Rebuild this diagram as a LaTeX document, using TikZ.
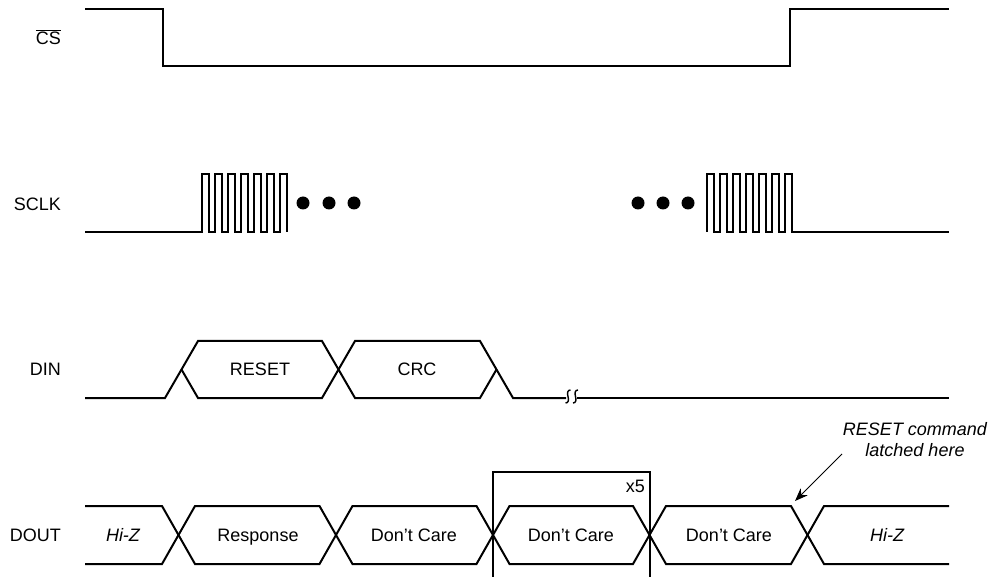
\documentclass[tikz,border=0pt]{standalone}
\usepackage{fontspec}
\setmainfont{Liberation Sans}
\usetikzlibrary{arrows.meta}
\begin{document}
\begin{tikzpicture}[x=1pt,y=-1pt,
  sig/.style={line width=2pt,line join=miter,line cap=butt},
  lbl/.style={font=\fontsize{18}{21}\selectfont,inner sep=0pt,text height=13pt,text depth=0pt},
  signame/.style={lbl,anchor=east},
  dotc/.style={fill=black,draw=none},
  brk/.style={line width=1.4pt},
  arr/.style={line width=1pt,-{Stealth[length=13pt,width=10pt]}}]
\useasboundingbox (0,0) rectangle (991,577);
% labels
\node[signame] (lcs) at (61,38) {$\overline{\mbox{CS}}$};
\node[signame] (lsclk) at (61,204) {SCLK};
\node[signame] (ldin) at (61,369.5) {DIN};
\node[signame] (ldout) at (61,535) {DOUT};
% CS
\draw[sig] (85,9) -- (163,9) -- (163,66) -- (790,66) -- (790,9) -- (949,9);
% SCLK
\def\w{6.54}
\draw[sig] (85,232) -- (202,232)
  foreach \i in {1,...,6}{ -- ++(0,-58) -- ++(\w,0) -- ++(0,58) -- ++(\w,0)}
  -- ++(0,-58) -- ++(\w,0) -- ++(0,58);
\draw[sig] (707,232)
  foreach \i in {1,...,6}{ -- ++(0,-58) -- ++(\w,0) -- ++(0,58) -- ++(\w,0)}
  -- ++(0,-58) -- ++(\w,0) -- ++(0,58) -- (949,232);
\foreach \x in {303,329,354,638,663,688}{\fill[dotc] (\x,203) circle (6.5);}
% DIN
\draw[sig] (85,398) -- (165,398) -- (198,341) -- (322,341) -- (355,398) -- (480,398) -- (496.5,369.5);
\draw[sig] (181.5,369.5) -- (198,398) -- (322,398) -- (355,341) -- (480,341) -- (513,398) -- (566,398);
\draw[sig] (577,398) -- (949,398);
\foreach \x in {567.5,575}{
  \draw[brk] (\x+3,390) .. controls (\x,390) and (\x-0.5,393) .. (\x+0.5,396.5)
    .. controls (\x+1.5,400) and (\x+1,403) .. (\x-2,403);}
\node[lbl] (reset) at (260,369.5) {RESET};
\node[lbl] (crc) at (417,369.5) {CRC};
% DOUT
\draw[sig] (85,506) -- (162,506) -- (195,564) -- (319.5,564) -- (352.5,506) -- (476.5,506) -- (509.5,564) -- (633,564) -- (666,506) -- (791,506) -- (824,564) -- (949,564);
\draw[sig] (85,564) -- (162,564) -- (195,506) -- (319.5,506) -- (352.5,564) -- (476.5,564) -- (509.5,506) -- (633,506) -- (666,564) -- (791,564) -- (824,506) -- (949,506);
\node[lbl] (hiz1) at (123,535) {\itshape Hi-Z};
\node[lbl] (resp) at (258,535) {Response};
\node[lbl] (dc1) at (414,535) {Don’t Care};
\node[lbl] (dc2) at (571,535) {Don’t Care};
\node[lbl] (dc3) at (729,535) {Don’t Care};
\node[lbl] (hiz2) at (887,535) {\itshape Hi-Z};
% repeat box
\draw[sig] (493,580) -- (493,472) -- (650,472) -- (650,580);
\node[lbl,anchor=east] (x5) at (645,486) {x5};
% annotation
\node[align=center,inner sep=0pt,font=\fontsize{18}{21}\selectfont\itshape] (note) at (915,440) {RESET command\\latched here};
\coordinate (astart) at (842,454);
\coordinate (latch) at (795,501);
\draw[arr] (astart) -- (latch);
\end{tikzpicture}
\end{document}
